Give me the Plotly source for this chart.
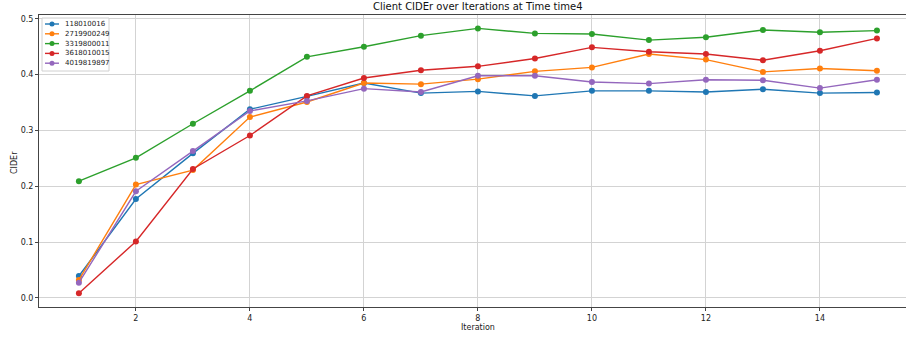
import plotly.graph_objects as go

iterations = list(range(1, 16))
series_names = ["118010016", "2719900249", "3319800011", "3618010015", "4019819897"]
s_118010016 = [0.039, 0.177, 0.259, 0.338, 0.361, 0.385, 0.367, 0.370, 0.362, 0.371, 0.371, 0.369, 0.374, 0.367, 0.368]
s_2719900249 = [0.032, 0.203, 0.229, 0.324, 0.351, 0.385, 0.383, 0.392, 0.406, 0.413, 0.437, 0.427, 0.405, 0.411, 0.407]
s_3319800011 = [0.209, 0.251, 0.312, 0.371, 0.432, 0.450, 0.470, 0.483, 0.474, 0.473, 0.462, 0.467, 0.480, 0.476, 0.479]
s_3618010015 = [0.008, 0.101, 0.231, 0.291, 0.362, 0.394, 0.408, 0.415, 0.429, 0.449, 0.441, 0.437, 0.426, 0.443, 0.465]
s_4019819897 = [0.027, 0.191, 0.263, 0.335, 0.353, 0.375, 0.369, 0.398, 0.398, 0.387, 0.384, 0.391, 0.390, 0.376, 0.391]
series_values = [s_118010016, s_2719900249, s_3319800011, s_3618010015, s_4019819897]
colors = ["#1f77b4", "#ff7f0e", "#2ca02c", "#d62728", "#9467bd"]

FONT = "DejaVu Sans"
W, H = 906, 337
L, R, T, B = 39, 0, 15, 30
PW, PH = W - L - R, H - T - B

def px_x(p):
    return (p - L) / PW

def px_y(p):
    return 1 - (p - T) / PH

fig = go.Figure()
for name, vals, c in zip(series_names, series_values, colors):
    fig.add_trace(go.Scatter(
        x=iterations, y=vals, name=name, mode="lines+markers",
        line=dict(color=c, width=1.4),
        marker=dict(color=c, size=6),
        showlegend=False,
    ))

shapes = []
annotations = []
# legend box (custom, compact like matplotlib)
shapes.append(dict(type="rect", xref="paper", yref="paper",
                   x0=px_x(42), x1=px_x(109), y0=px_y(71), y1=px_y(18),
                   line=dict(color="#d0d0d0", width=1), fillcolor="rgba(255,255,255,0.85)", layer="above"))
for i, (name, c) in enumerate(zip(series_names, colors)):
    yy = 24 + i * 9.8
    shapes.append(dict(type="line", xref="paper", yref="paper",
                       x0=px_x(45), x1=px_x(59), y0=px_y(yy), y1=px_y(yy),
                       line=dict(color=c, width=1.4), layer="above"))
    shapes.append(dict(type="circle", xref="paper", yref="paper",
                       x0=px_x(49.5), x1=px_x(54.5), y0=px_y(yy + 2.5), y1=px_y(yy - 2.5),
                       line=dict(color=c, width=0), fillcolor=c, layer="above"))
    annotations.append(dict(text=name, xref="paper", yref="paper", x=px_x(63), y=px_y(yy),
                            xanchor="left", yanchor="middle", showarrow=False,
                            font=dict(size=7, color="#222", family=FONT)))

annotations.append(dict(text="Iteration", xref="paper", yref="paper", x=px_x(478), y=px_y(327),
                        xanchor="center", yanchor="middle", showarrow=False,
                        font=dict(size=8, color="#222", family=FONT)))
annotations.append(dict(text="CIDEr", xref="paper", yref="paper", x=px_x(14), y=px_y(163),
                        xanchor="center", yanchor="middle", showarrow=False, textangle=-90,
                        font=dict(size=8, color="#222", family=FONT)))
annotations.append(dict(text="Client CIDEr over Iterations at Time time4", xref="paper", yref="paper",
                        x=px_x(478), y=px_y(7), xanchor="center", yanchor="middle", showarrow=False,
                        font=dict(size=10, color="#111", family=FONT)))

fig.update_layout(
    width=W, height=H,
    margin=dict(l=L, r=R, t=T, b=B),
    paper_bgcolor="white", plot_bgcolor="white",
    font=dict(family=FONT, size=8, color="#222"),
    showlegend=False,
    shapes=shapes, annotations=annotations,
)
fig.update_xaxes(
    range=[0.3, 15.51], tickvals=[2, 4, 6, 8, 10, 12, 14],
    showgrid=True, gridcolor="#d3d3d3", gridwidth=1,
    showline=True, linecolor="#444", linewidth=1, mirror=True,
    ticks="outside", ticklen=3, tickcolor="#444",
    zeroline=False, automargin=False,
)
fig.update_yaxes(
    range=[-0.0165, 0.507], tickvals=[0.0, 0.1, 0.2, 0.3, 0.4, 0.5], tickformat=".1f",
    showgrid=True, gridcolor="#d3d3d3", gridwidth=1,
    showline=True, linecolor="#444", linewidth=1,
    ticks="outside", ticklen=3, tickcolor="#444",
    zeroline=False, automargin=False,
)
fig.write_html("out.html", config={"displayModeBar": False},
               post_script="document.body.style.margin='0px';document.body.style.overflow='hidden';")
